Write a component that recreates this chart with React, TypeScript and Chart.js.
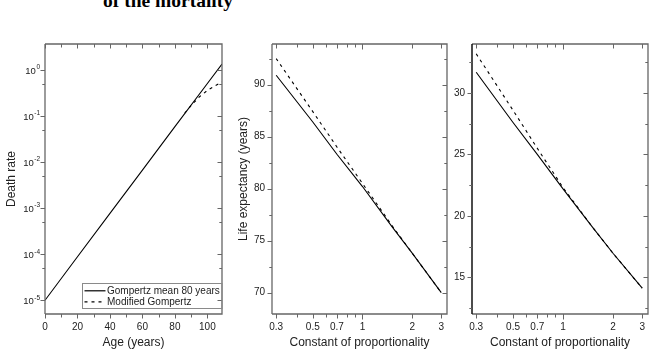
import React, { useEffect, useRef } from "react";
import { Chart, registerables } from "chart.js";

Chart.register(...registerables);

// ---------- data ----------
const ages = [0, 20, 40, 60, 80, 100, 109];
const gompertzRate = [1.0e-5, 8.8e-5, 7.7e-4, 6.7e-3, 0.059, 0.51, 1.35];
const modifiedAges = [86, 90, 95, 100, 105, 109];
const modifiedRate = [0.115, 0.17, 0.26, 0.36, 0.46, 0.55];

const constants = [0.3, 0.5, 0.7, 1, 1.5, 2, 3];
const lifeExpGompertz = [90.9, 86.4, 83.3, 80.2, 76.4, 73.8, 70.0];
const lifeExpModified = [92.5, 87.4, 84.0, 80.5, 76.5, 73.8, 70.0];
const remainingGompertz = [31.7, 27.6, 25.0, 22.2, 19.1, 16.95, 14.1];
const remainingModified = [33.2, 28.6, 25.5, 22.3, 19.1, 16.95, 14.1];

// ---------- ticks ----------
const ageTicks = [0, 20, 40, 60, 80, 100];
const ageMinor = [10, 30, 50, 70, 90];
const rateExponents = [-5, -4, -3, -2, -1, 0];
const rateMinor = [5e-5, 5e-4, 5e-3, 5e-2, 5e-1];
const constTicks = [0.3, 0.5, 0.7, 1, 2, 3];
const constMinor = [0.4, 0.6, 0.8, 0.9];
const lifeTicks = [70, 75, 80, 85, 90];
const lifeMinor = [72.5, 77.5, 82.5, 87.5, 92.5];
const remTicks = [15, 20, 25, 30];
const remMinor = [12.5, 17.5, 22.5, 27.5, 32.5];

const legendLabels = ["Gompertz mean 80 years", "Modified Gompertz"];

const W = 656;
const H = 354;
const FONT = "'Liberation Sans', Arial, sans-serif";
const FRAME = "#666";
const TEXT = "#222";

type Spec = {
  padLeft: number;
  left: number;
  right: number;
  top: number;
  bottom: number;
  xType: "linear" | "logarithmic";
  xMin: number;
  xMax: number;
  xTicks: number[];
  xMinor: number[];
  yType: "linear" | "logarithmic";
  yMin: number;
  yMax: number;
  yTicks: number[];
  yMinor: number[];
  xTitle: string;
  yTitle?: string;
  datasets: { xs: number[]; ys: number[]; dashed: boolean }[];
  superscriptY?: boolean;
  legend?: boolean;
  leftAxisColor?: string;
  leftAxisWidth?: number;
};

function makePlugin(spec: Spec) {
  return {
    id: "frameTicks",
    afterDatasetsDraw(chart: any) {
      const ctx = chart.ctx as CanvasRenderingContext2D;
      const { left, right, top, bottom } = chart.chartArea;
      const xs = chart.scales.x;
      const ys = chart.scales.y;
      ctx.save();
      // frame
      ctx.strokeStyle = FRAME;
      ctx.lineWidth = 1.3;
      ctx.beginPath();
      ctx.moveTo(left, top);
      ctx.lineTo(right, top);
      ctx.lineTo(right, bottom);
      ctx.lineTo(left, bottom);
      ctx.stroke();
      ctx.strokeStyle = spec.leftAxisColor || FRAME;
      ctx.lineWidth = spec.leftAxisWidth || 1.3;
      ctx.beginPath();
      ctx.moveTo(left, top);
      ctx.lineTo(left, bottom);
      ctx.stroke();

      // ticks
      ctx.strokeStyle = FRAME;
      ctx.lineWidth = 1;
      const major = 4.5;
      const minor = 2.7;
      const yMaj = spec.superscriptY ? rateExponents.map((e) => Math.pow(10, e)) : spec.yTicks;
      const drawX = (v: number, len: number) => {
        const px = Math.round(xs.getPixelForValue(v)) + 0.5;
        ctx.beginPath();
        ctx.moveTo(px, bottom);
        ctx.lineTo(px, bottom + len);
        ctx.moveTo(px, top);
        ctx.lineTo(px, top + len);
        ctx.stroke();
      };
      const drawY = (v: number, len: number) => {
        const py = Math.round(ys.getPixelForValue(v)) + 0.5;
        ctx.beginPath();
        ctx.moveTo(left - len, py);
        ctx.lineTo(left, py);
        ctx.moveTo(right - len, py);
        ctx.lineTo(right, py);
        ctx.stroke();
      };
      spec.xTicks.forEach((v) => drawX(v, v === 1 && spec.xType === "logarithmic" ? 5.5 : major));
      spec.xMinor.forEach((v) => drawX(v, 3.5));
      yMaj.forEach((v) => drawY(v, major));
      spec.yMinor.forEach((v) => drawY(v, minor));

      // superscript labels for log y
      if (spec.superscriptY) {
        ctx.fillStyle = TEXT;
        ctx.textBaseline = "middle";
        rateExponents.forEach((e) => {
          const py = ys.getPixelForValue(Math.pow(10, e));
          const base = "10";
          const exp = String(e);
          ctx.font = `6.5px ${FONT}`;
          const we = ctx.measureText(exp).width;
          ctx.font = `9.5px ${FONT}`;
          const wb = ctx.measureText(base).width;
          const xr = left - 5;
          ctx.textAlign = "left";
          ctx.fillText(base, xr - we - wb - 0.5, py + 1);
          ctx.font = `6.5px ${FONT}`;
          ctx.fillText(exp, xr - we, py - 2.5);
        });
      }

      // legend
      if (spec.legend) {
        const bx = 82;
        const by = 283.5;
        const bw = right - bx;
        const bh = 25;
        ctx.strokeStyle = "#8a8a8a";
        ctx.lineWidth = 1;
        ctx.strokeRect(bx + 0.5, by, bw - 0.5, bh);
        ctx.fillStyle = TEXT;
        ctx.font = `10px ${FONT}`;
        ctx.textAlign = "left";
        ctx.textBaseline = "middle";
        const rows = [290.8, 301.8];
        rows.forEach((ry, i) => {
          ctx.strokeStyle = "#000";
          ctx.lineWidth = 1.2;
          ctx.setLineDash(i === 1 ? [3, 4] : []);
          ctx.beginPath();
          ctx.moveTo(84.5, ry);
          ctx.lineTo(105.5, ry);
          ctx.stroke();
          ctx.setLineDash([]);
          ctx.fillText(legendLabels[i], 107, ry + 0.5);
        });
      }
      ctx.restore();
    },
  };
}

function makeConfig(spec: Spec): any {
  const tickFont = { family: FONT, size: 10 };
  const titleFont = { family: FONT, size: 12 };
  return {
    type: "line",
    data: {
      datasets: spec.datasets.map((d) => ({
        data: d.xs.map((x, i) => ({ x, y: d.ys[i] })),
        borderColor: "#000",
        borderWidth: 1.1,
        borderDash: d.dashed ? [3, 4] : [],
        pointRadius: 0,
        tension: 0,
        fill: false,
      })),
    },
    options: {
      responsive: false,
      animation: false,
      events: [],
      layout: { padding: { left: spec.padLeft, right: W - spec.right, top: spec.top, bottom: 0 } },
      plugins: { legend: { display: false }, tooltip: { enabled: false }, title: { display: false } },
      scales: {
        x: {
          type: spec.xType,
          position: "bottom",
          min: spec.xMin,
          max: spec.xMax,
          afterFit: (s: any) => {
            s.height = H - spec.bottom;
          },
          afterBuildTicks: (s: any) => {
            s.ticks = spec.xTicks.map((v) => ({ value: v }));
          },
          ticks: {
            callback: (v: any) => String(v),
            padding: 7,
            font: tickFont,
            color: TEXT,
            maxRotation: 0,
            autoSkip: false,
          },
          grid: { display: false, drawTicks: false },
          border: { display: false },
          title: {
            display: true,
            text: spec.xTitle,
            font: titleFont,
            color: TEXT,
            padding: { top: 0, bottom: 4 },
          },
        },
        y: {
          type: spec.yType,
          position: "left",
          min: spec.yMin,
          max: spec.yMax,
          afterFit: (s: any) => {
            s.width = spec.left - spec.padLeft;
          },
          afterBuildTicks: (s: any) => {
            if (spec.superscriptY) {
              s.ticks = rateExponents.map((e) => ({ value: Math.pow(10, e) }));
            } else {
              s.ticks = spec.yTicks.map((v) => ({ value: v }));
            }
          },
          ticks: {
            callback: (v: any) => (spec.superscriptY ? "" : String(v)),
            padding: 7,
            font: tickFont,
            color: TEXT,
            autoSkip: false,
          },
          grid: { display: false, drawTicks: false },
          border: { display: false },
          title: {
            display: !!spec.yTitle,
            text: spec.yTitle || "",
            font: titleFont,
            color: TEXT,
            padding: { top: 4, bottom: 0 },
          },
        },
      },
    },
    plugins: [makePlugin(spec)],
  };
}

const panel1: Spec = {
  padLeft: 0,
  left: 45,
  right: 222,
  top: 44,
  bottom: 314,
  xType: "linear",
  xMin: 0,
  xMax: 109,
  xTicks: ageTicks,
  xMinor: ageMinor,
  yType: "logarithmic",
  yMin: 5.04e-6,
  yMax: 3.67,
  yTicks: [],
  yMinor: rateMinor,
  xTitle: "Age (years)",
  yTitle: "Death rate",
  datasets: [
    { xs: ages, ys: gompertzRate, dashed: false },
    { xs: modifiedAges, ys: modifiedRate, dashed: true },
  ],
  superscriptY: true,
  legend: true,
};

const panel2: Spec = {
  padLeft: 232,
  left: 272,
  right: 447,
  top: 44,
  bottom: 314,
  xType: "logarithmic",
  xMin: 0.283,
  xMax: 3.25,
  xTicks: constTicks,
  xMinor: constMinor,
  yType: "linear",
  yMin: 67.95,
  yMax: 93.9,
  yTicks: lifeTicks,
  yMinor: lifeMinor,
  xTitle: "Constant of proportionality",
  yTitle: "Life expectancy (years)",
  datasets: [
    { xs: constants, ys: lifeExpGompertz, dashed: false },
    { xs: constants, ys: lifeExpModified, dashed: true },
  ],
};

const panel3: Spec = {
  padLeft: 440,
  left: 472,
  right: 648,
  top: 44,
  bottom: 314,
  xType: "logarithmic",
  xMin: 0.283,
  xMax: 3.25,
  xTicks: constTicks,
  xMinor: constMinor,
  yType: "linear",
  yMin: 12.0,
  yMax: 34.0,
  yTicks: remTicks,
  yMinor: remMinor,
  xTitle: "Constant of proportionality",
  datasets: [
    { xs: constants, ys: remainingGompertz, dashed: false },
    { xs: constants, ys: remainingModified, dashed: true },
  ],
  leftAxisColor: "#111",
  leftAxisWidth: 1.5,
};

function Panel({ spec }: { spec: Spec }) {
  const ref = useRef<HTMLCanvasElement>(null);
  useEffect(() => {
    const chart = new Chart(ref.current as HTMLCanvasElement, makeConfig(spec));
    return () => chart.destroy();
  }, [spec]);
  return (
    <canvas
      ref={ref}
      width={W}
      height={H}
      style={{ position: "absolute", left: 0, top: 0, width: W, height: H }}
    />
  );
}

export default function App() {
  return (
    <div
      style={{
        position: "fixed",
        left: 0,
        top: 0,
        width: W,
        height: H,
        background: "#fff",
        overflow: "hidden",
      }}
    >
      <div
        style={{
          position: "absolute",
          left: 168,
          top: -9,
          transform: "translateX(-50%)",
          whiteSpace: "nowrap",
          fontFamily: "'Liberation Serif', 'Times New Roman', serif",
          fontWeight: "bold",
          fontSize: 19.5,
          lineHeight: "19.5px",
          color: "#000",
        }}
      >
        of the mortality
      </div>
      <Panel spec={panel1} />
      <Panel spec={panel2} />
      <Panel spec={panel3} />
    </div>
  );
}
